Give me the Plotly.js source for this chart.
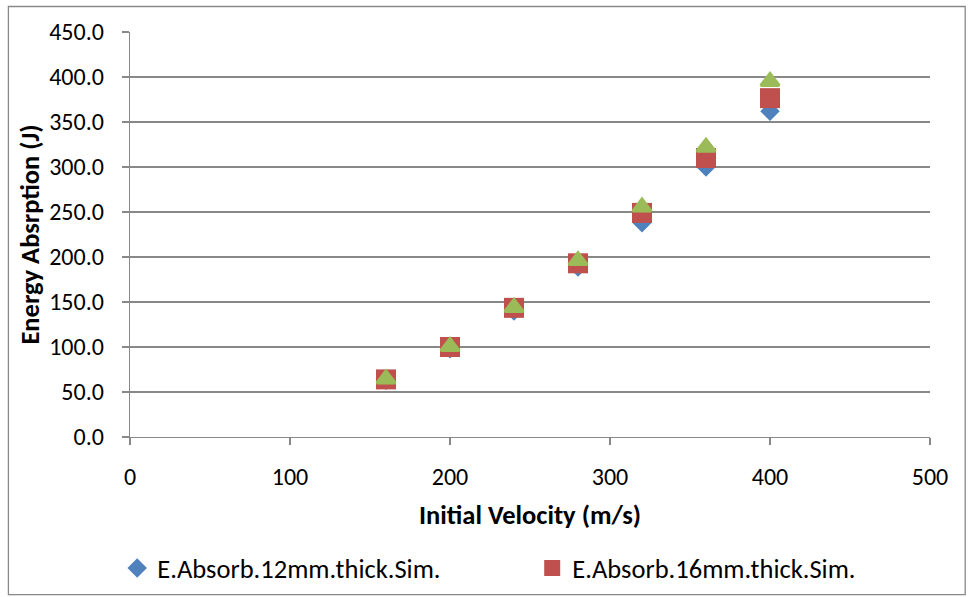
<!DOCTYPE html>
<html>
<head>
<meta charset="utf-8">
<script src="https://cdn.plot.ly/plotly-3.0.1.min.js"></script>
<style>html,body{margin:0;padding:0;background:#fff;}#chart{width:969px;height:597px;}</style>
</head>
<body>
<div id="chart"></div>
<script>
const velocity = [160, 200, 240, 280, 320, 360, 400];
const energy12mm = [63, 98, 140, 189, 238, 300, 362];
const energy16mm = [64, 100, 143.5, 193, 249, 310, 376.5];
const energy20mm = [64.5, 100.5, 144, 196, 255.5, 322, 395];
const seriesNames = ["E.Absorb.12mm.thick.Sim.", "E.Absorb.16mm.thick.Sim.", "E.Absorb.20mm.thick.Sim."];
const xTitle = "Initial Velocity (m/s)";
const yTitle = "Energy Absrption (J)";

const FONT = "Carlito, Lato, 'Liberation Sans Narrow', sans-serif";
const FS = 24;
const FS_BIG = 26.5;

const traces = [
  {x: velocity, y: energy12mm, name: seriesNames[0], type: 'scatter', mode: 'markers',
   marker: {symbol: 'diamond', size: 15, color: '#4F81BD'}},
  {x: velocity, y: energy16mm, name: seriesNames[1], type: 'scatter', mode: 'markers',
   marker: {symbol: 'square', size: 20, color: '#C0504D'}},
  {x: velocity, y: energy20mm, name: seriesNames[2], type: 'scatter', mode: 'markers', showlegend: false,
   marker: {symbol: 'triangle-up', size: 16, color: '#9BBB59', line: {color: '#9BBB59', width: 3}}}
];

const layout = {
  width: 969, height: 597,
  margin: {l: 130, r: 39, t: 31.5, b: 159.5, autoexpand: false},
  paper_bgcolor: '#fff', plot_bgcolor: '#fff',
  font: {family: FONT, size: FS, color: '#000'},
  xaxis: {
    range: [0, 500], dtick: 100, tick0: 0,
    showgrid: false, zeroline: false,
    showline: true, linecolor: '#888', linewidth: 1.3,
    ticks: 'outside', ticklen: 7, tickcolor: '#888', tickwidth: 1.3,
    ticklabelstandoff: 11, automargin: false,
    tickfont: {family: FONT, size: FS},
    title: {text: '<b>' + xTitle + '</b>', font: {family: FONT, size: FS_BIG}, standoff: 15}
  },
  yaxis: {
    range: [0, 450], dtick: 50, tick0: 0, tickformat: '.1f',
    showgrid: true, gridcolor: '#888', gridwidth: 1.3, zeroline: false,
    showline: true, linecolor: '#888', linewidth: 1.3,
    ticks: 'outside', ticklen: 7, tickcolor: '#888', tickwidth: 1.3,
    ticklabelstandoff: 13, automargin: false,
    tickfont: {family: FONT, size: FS},
    title: {text: '<b>' + yTitle + '</b>', font: {family: FONT, size: FS_BIG}, standoff: 2}
  },
  showlegend: true,
  legend: {
    orientation: 'h', x: -0.016, xanchor: 'left', y: -0.324, yanchor: 'middle',
    entrywidth: 370, entrywidthmode: 'pixels',
    font: {family: FONT, size: FS_BIG}, bgcolor: 'rgba(0,0,0,0)'
  },
  shapes: [{
    type: 'rect', xref: 'paper', yref: 'paper',
    x0: -0.152, x1: 1.044, y0: -0.389, y1: 1.063,
    line: {color: '#888', width: 1.3}, fillcolor: 'rgba(0,0,0,0)', layer: 'below'
  }]
};

Plotly.newPlot('chart', traces, layout, {displayModeBar: false, staticPlot: true});
</script>
</body>
</html>
